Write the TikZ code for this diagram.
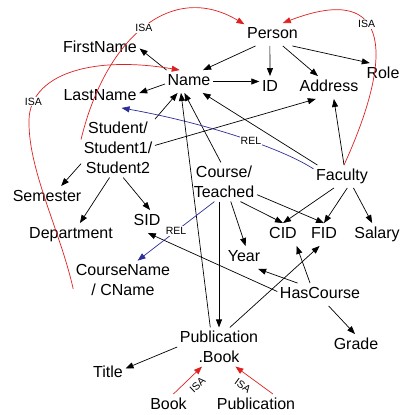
\documentclass[tikz,border=0pt]{standalone}
\usepackage{fontspec}
\setmainfont{Liberation Sans}
\usetikzlibrary{arrows.meta}
\definecolor{isared}{RGB}{222,32,32}
\definecolor{relblue}{RGB}{45,45,155}
\begin{document}
\begin{tikzpicture}[x=1pt,y=-1pt,
  lbl/.style={font=\fontsize{16}{20}\selectfont, inner xsep=2.5pt, inner ysep=3.5pt, text height=12pt, text depth=3.5pt},
  mlbl/.style={font=\fontsize{16}{20}\selectfont, inner xsep=2.5pt, inner ysep=3.5pt, align=center},
  arr/.style={line width=0.7pt, -{Triangle[length=8pt,width=6pt]}},
  isa/.style={isared, line width=0.7pt, -{Triangle[length=8pt,width=6pt]}},
  rel/.style={relblue, line width=0.7pt, -{Triangle[length=8pt,width=6pt]}},
  tag/.style={font=\fontsize{10.5}{12}\selectfont, inner sep=1pt, fill=white, text=black},
  stag/.style={font=\fontsize{10.5}{12}\selectfont, inner sep=1pt, text=black}
]
\useasboundingbox (0,0) rectangle (405,415);

% nodes
\node[lbl] (Person) at (272.5,34.5) {Person};
\node[lbl] (FirstName) at (100,48.5) {FirstName};
\node[lbl] (Name) at (189,81.5) {Name};
\node[lbl] (ID) at (270,87.5) {ID};
\node[lbl] (Address) at (329,87.5) {Address};
\node[lbl] (Role) at (383,74.5) {Role};
\node[lbl] (LastName) at (100,96.5) {LastName};
\node[mlbl] (Stu) at (118,148) {Student/\\Student1/\\Student2};
\node[lbl] (Semester) at (47,197.5) {Semester};
\node[lbl] (Department) at (71,234.5) {Department};
\node[lbl] (SID) at (147,221.5) {SID};
\node[mlbl] (CT) at (224,182) {Course/\\Teached};
\node[lbl] (Faculty) at (342,176.5) {Faculty};
\node[lbl] (CID) at (283,234.5) {CID};
\node[lbl] (FID) at (324,234.5) {FID};
\node[lbl] (Salary) at (377,234.5) {Salary};
\node[lbl] (Year) at (244,257.5) {Year};
\node[mlbl] (CN) at (123,280) {CourseName\\/ CName};
\node[lbl] (HC) at (320,294.5) {HasCourse};
\node[lbl] (Grade) at (356,345.5) {Grade};
\node[mlbl] (PB) at (219,347) {Publication\\.Book};
\node[lbl] (Title) at (108,373.5) {Title};
\node[lbl] (Book) at (168.5,405.5) {Book};
\node[lbl] (Publication) at (256,405.5) {Publication};

% black edges
\draw[arr] (Name.153) -- (FirstName.east);
\draw[arr] (Name.186) -- (LastName.5);
\draw[arr] (Person.214) -- (Name.39);
\draw[arr] (Person.257) -- (ID.north);
\draw[arr] (Person.-48) -- (Address.134);
\draw[arr] (Person.-30) -- (Role.139);
\draw[arr] (Name.east) -- (Name.east -| ID.west);
\draw[arr] (Stu.38) -- (Name.225);
\draw[arr] (Stu.4) -- (Address.221);
\draw[arr] (Stu.203) -- (Semester.39);
\draw[arr] (Stu.254) -- (Department.52);
\draw[arr] (Stu.280) -- (SID.75);
\draw[arr] (CT.99) -- (Name.248);
\draw[arr] (PB.114) -- (Name.235);
\draw[arr] (Faculty.155) -- (Name.-40);
\draw[arr] (Faculty.80) -- (Address.-67);
\draw[arr] (Faculty.235) -- (CID.north);
\draw[arr] (Faculty.-65) -- (FID.north);
\draw[arr] (Faculty.-45) -- (Salary.113);
\draw[arr] (CT.-50) -- (CID.north);
\draw[arr] (CT.-21) -- (FID.north);
\draw[arr] (CT.-71) -- (Year.82);
\draw[arr] (CT.south -| PB.north) -- (PB.north);
\draw[arr] (HC.176) -- (SID.-86);
\draw[arr] (HC.153) -- (Year.-39);
\draw[arr] (HC.131) -- (CID.-40);
\draw[arr] (PB.61) -- (FID.249);
\draw[arr] (HC.-53) -- (Grade.95);
\draw[arr] (PB.west) -- (Title.16);

% ISA edges
\draw[isa] (Stu.167) .. controls (105,40) and (170,-20) .. (Person.160) node[tag,pos=0.5] {ISA};
\draw[isa] (Faculty.80) .. controls (392,60) and (395,-20) .. (Person.48) node[tag,pos=0.6] {ISA};
\draw[isa] (CN.190) .. controls (60,230) and (28,170) .. (29,120) .. controls (30,75) and (90,55) .. (Name.129) node[tag,pos=0.15] {ISA};
\draw[isa] (Book.67) -- (PB.229) node[stag,sloped,below=5pt,pos=0.6] {ISA};
\draw[isa] (Publication.34) -- (PB.-50) node[stag,sloped,below=6pt,pos=0.63] {ISA};

% REL edges
\draw[rel] (Faculty.165) .. controls (276,145) and (195,121) .. (LastName.-28) node[tag,pos=0.4] {REL};
\draw[rel] (CT.244) -- (CN.53) node[tag,pos=0.5] {REL};
\end{tikzpicture}
\end{document}
